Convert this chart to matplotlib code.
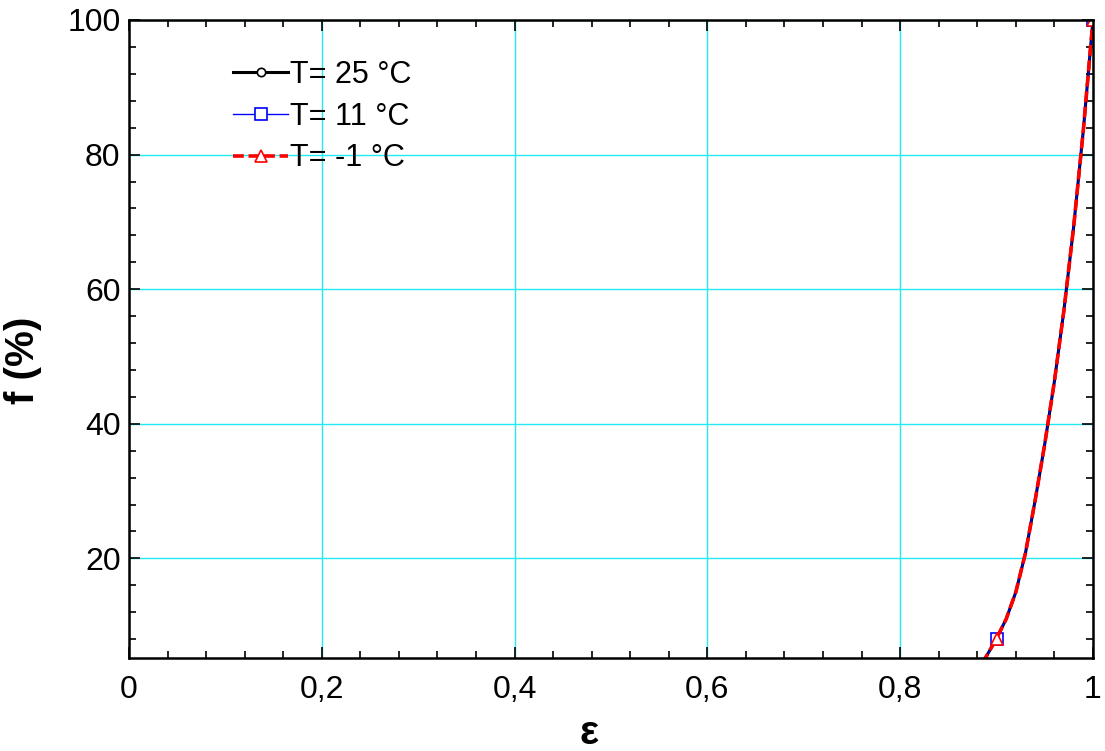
import matplotlib
matplotlib.use("Agg")
import matplotlib.pyplot as plt
from matplotlib.ticker import MultipleLocator, FuncFormatter

plt.rcParams['font.family'] = ['Liberation Sans', 'DejaVu Sans']

# effectiveness and fraction
eps = [0.885, 0.89, 0.90, 0.91, 0.92, 0.93, 0.94, 0.95, 0.96, 0.97, 0.98, 0.99, 1.00]
f_25 = [4.4, 5.6, 8.1, 11.0, 15.0, 20.8, 28.6, 37.0, 46.3, 57.0, 69.3, 83.6, 100.0]
f_11 = [4.4, 5.6, 8.1, 11.0, 15.0, 20.8, 28.6, 37.0, 46.3, 57.0, 69.3, 83.6, 100.0]
f_m1 = [4.4, 5.6, 8.1, 11.0, 15.0, 20.8, 28.6, 37.0, 46.3, 57.0, 69.3, 83.6, 100.0]
labels = ['T= 25 °C', 'T= 11 °C', 'T= -1 °C']
marks = [2, 12]

fig = plt.figure(figsize=(11.05, 7.51), dpi=100)
ax = fig.add_axes([0.1167, 0.1238, 0.8724, 0.8496])

ax.plot(eps, f_25, color='black', lw=2.2, marker='o', ms=6, mfc='white',
        mec='black', mew=1.2, markevery=marks, label=labels[0])
ax.plot(eps, f_11, color='blue', lw=1.0, marker='s', ms=9, mfc='white',
        mec='blue', mew=1.2, markevery=marks, label=labels[1])
ax.plot(eps, f_m1, color='red', lw=2.6, ls=(0, (3, 1.3)), marker='^', ms=9,
        mfc='white', mec='red', mew=1.2, markevery=marks, label=labels[2])

ax.set_xlim(0, 1)
ax.set_ylim(5.2, 100)
ax.xaxis.set_major_locator(MultipleLocator(0.2))
ax.xaxis.set_minor_locator(MultipleLocator(0.04))
ax.yaxis.set_major_locator(MultipleLocator(20))
ax.yaxis.set_minor_locator(MultipleLocator(4))
ax.xaxis.set_major_formatter(FuncFormatter(lambda v, p: ('%g' % round(v, 2)).replace('.', ',')))
ax.yaxis.set_major_formatter(FuncFormatter(lambda v, p: '%g' % v))

ax.grid(True, which='major', color='#22eaf2', lw=1.0)
ax.set_axisbelow(True)
ax.tick_params(which='both', direction='in', top=True, right=True, width=1.2, labelsize=23)
ax.tick_params(axis='x', pad=12)
ax.tick_params(axis='y', pad=6)
ax.tick_params(which='major', length=8)
ax.tick_params(which='minor', length=5)
for s in ax.spines.values():
    s.set_linewidth(1.8)

ax.set_xlabel('ε', fontsize=29, fontweight='bold')
ax.set_ylabel('f (%)', fontsize=29, fontweight='bold')
ax.xaxis.set_label_coords(0.477, -0.088)
ax.yaxis.set_label_coords(-0.09, 0.466)

ax.legend(loc='upper left', bbox_to_anchor=(0.108, 0.937), frameon=False,
          fontsize=22, handlelength=1.8, handletextpad=0.05, labelspacing=0.38,
          borderpad=0, borderaxespad=0)

fig.savefig('out.png', dpi=100)
